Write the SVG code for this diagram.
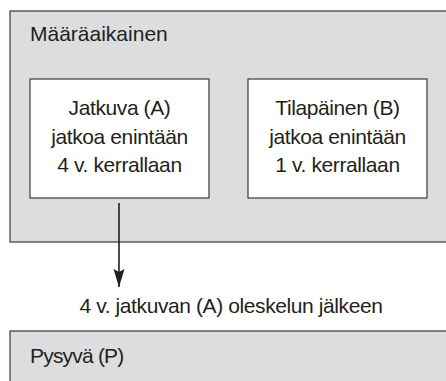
<svg xmlns="http://www.w3.org/2000/svg" width="446" height="381" viewBox="0 0 446 381">
<style>
.t{font-family:"Liberation Sans",Arial,sans-serif;font-size:21px;letter-spacing:-0.4px;fill:#231f20}
.c{text-anchor:middle}
.outer{fill:#dcdddf;stroke:#3a3a3a;stroke-width:1.2}
.inner{fill:#ffffff;stroke:#3a3a3a;stroke-width:1.2}
.conn{stroke:#231f20;stroke-width:1.6;fill:none}
</style>
<defs>
<marker id="ah" markerUnits="userSpaceOnUse" markerWidth="20" markerHeight="12" refX="18" refY="6" orient="auto" viewBox="0 0 20 12">
<path d="M0,0.5 L3,6 L0,11.5 L18,6 Z" fill="#231f20"/>
</marker>
</defs>
<rect width="446" height="381" fill="#ffffff"/>
<g id="maaraaikainen">
<rect class="outer" x="10" y="11" width="450" height="231"/>
<text class="t" x="30" y="41" style="letter-spacing:0">Määräaikainen</text>
</g>
<g id="jatkuva">
<rect class="inner" x="30" y="79" width="179" height="119"/>
<text class="t c" x="119.5" y="115">Jatkuva (A)</text>
<text class="t c" x="119.5" y="143.5">jatkoa enintään</text>
<text class="t c" x="119.5" y="172">4 v. kerrallaan</text>
</g>
<g id="tilapainen">
<rect class="inner" x="248" y="79" width="179" height="119"/>
<text class="t c" x="337.5" y="115">Tilapäinen (B)</text>
<text class="t c" x="337.5" y="143.5">jatkoa enintään</text>
<text class="t c" x="337.5" y="172">1 v. kerrallaan</text>
</g>
<g id="pysyva">
<rect class="outer" x="10" y="331" width="450" height="60"/>
<text class="t" x="30" y="363" style="letter-spacing:-0.8px">Pysyvä (P)</text>
</g>
<g id="connectors">
<line class="conn" x1="119" y1="203" x2="119" y2="287" marker-end="url(#ah)"/>
<text class="t c" x="231" y="313">4 v. jatkuvan (A) oleskelun jälkeen</text>
</g>
</svg>
